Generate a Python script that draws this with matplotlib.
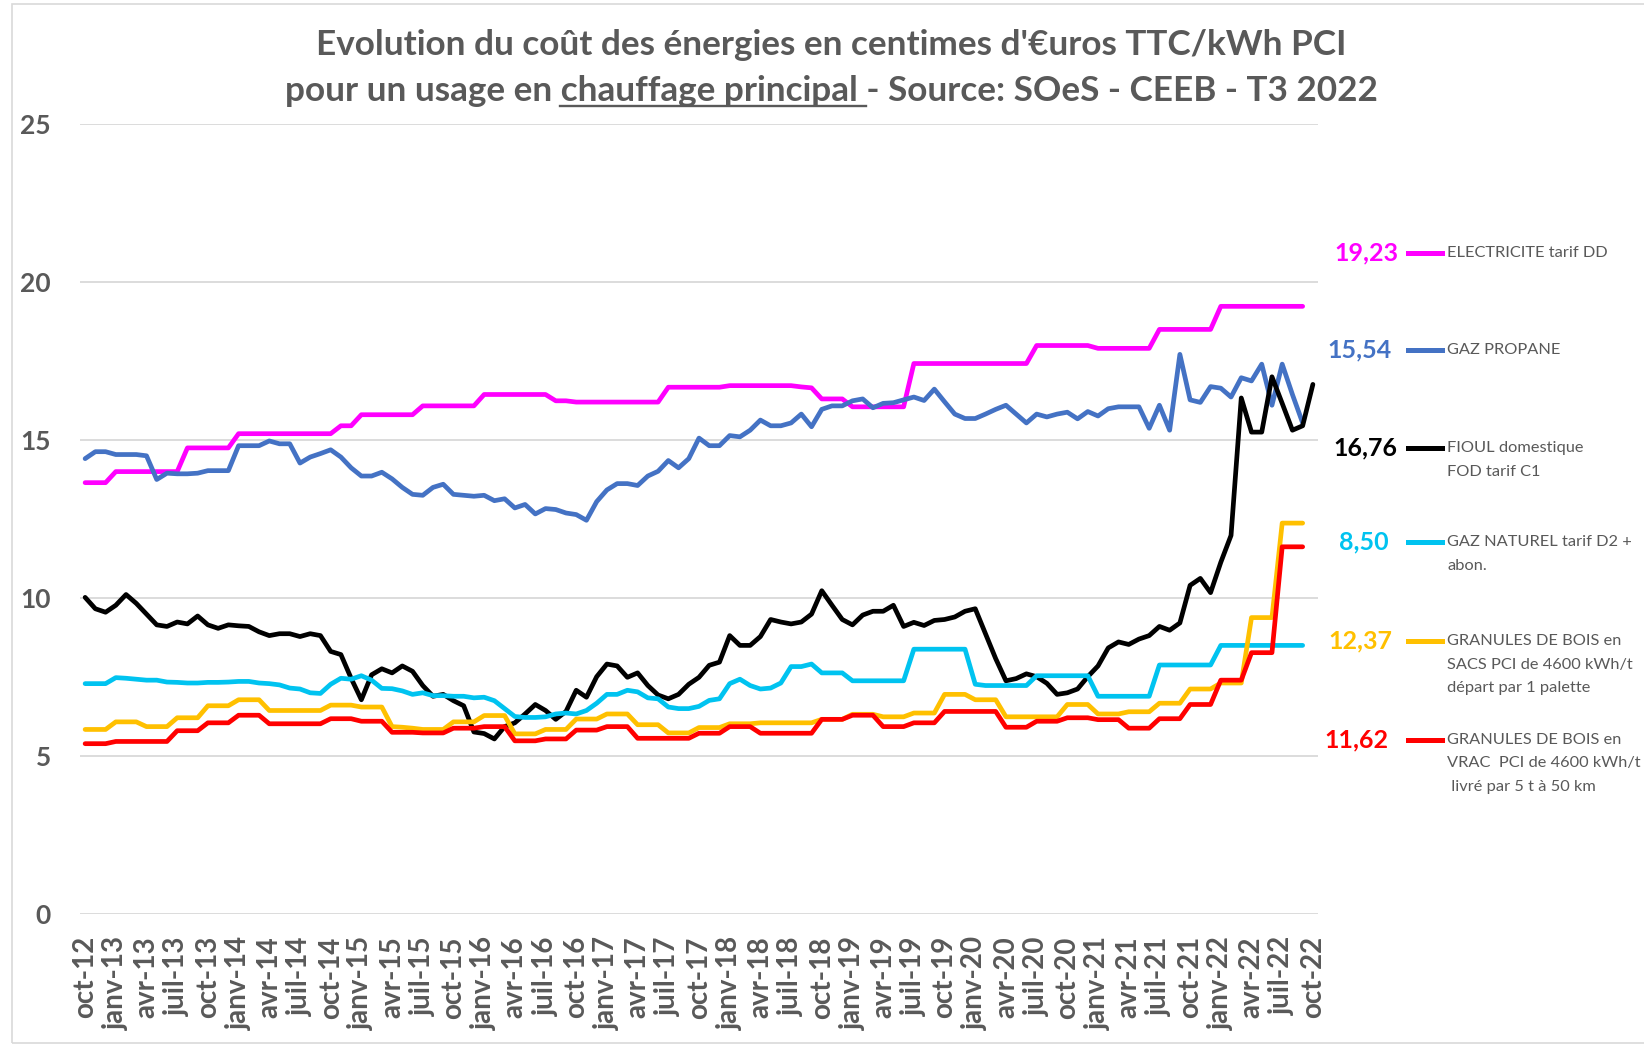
import matplotlib
matplotlib.use("Agg")
import matplotlib.pyplot as plt
from matplotlib.lines import Line2D
from matplotlib.patches import Rectangle

plt.rcParams['font.family'] = ['Lato', 'DejaVu Sans']

W, H = 1644, 1047
GREY = '#595959'

# tick labels, one every 3 months (oct-12 .. oct-22)
tick_labels = ['oct-12',
               'janv-13', 'avr-13', 'juil-13', 'oct-13',
               'janv-14', 'avr-14', 'juil-14', 'oct-14',
               'janv-15', 'avr-15', 'juil-15', 'oct-15',
               'janv-16', 'avr-16', 'juil-16', 'oct-16',
               'janv-17', 'avr-17', 'juil-17', 'oct-17',
               'janv-18', 'avr-18', 'juil-18', 'oct-18',
               'janv-19', 'avr-19', 'juil-19', 'oct-19',
               'janv-20', 'avr-20', 'juil-20', 'oct-20',
               'janv-21', 'avr-21', 'juil-21', 'oct-21',
               'janv-22', 'avr-22', 'juil-22', 'oct-22']

# monthly values, c€/kWh PCI, starting oct-12
electricite = [13.65, 13.65, 13.65, 14.0, 14.0, 14.0, 14.0, 14.0, 14.0, 14.0,
               14.75, 14.75, 14.75, 14.75, 14.75, 15.2, 15.2, 15.2, 15.2, 15.2,
               15.2, 15.2, 15.2, 15.2, 15.2, 15.45, 15.45, 15.8, 15.8, 15.8,
               15.8, 15.8, 15.8, 16.08, 16.08, 16.08, 16.08, 16.08, 16.08, 16.44,
               16.44, 16.44, 16.44, 16.44, 16.44, 16.44, 16.24, 16.24, 16.2, 16.2,
               16.2, 16.2, 16.2, 16.2, 16.2, 16.2, 16.2, 16.67, 16.67, 16.67,
               16.67, 16.67, 16.67, 16.72, 16.72, 16.72, 16.72, 16.72, 16.72, 16.72,
               16.68, 16.65, 16.3, 16.3, 16.3, 16.05, 16.05, 16.05, 16.05, 16.05,
               16.05, 17.42, 17.42, 17.42, 17.42, 17.42, 17.42, 17.42, 17.42, 17.42,
               17.42, 17.42, 17.42, 17.99, 17.99, 17.99, 17.99, 17.99, 17.99, 17.9,
               17.9, 17.9, 17.9, 17.9, 17.9, 18.5, 18.5, 18.5, 18.5, 18.5,
               18.5, 19.23, 19.23, 19.23, 19.23, 19.23, 19.23, 19.23, 19.23, 19.23]

propane = [14.41, 14.63, 14.63, 14.54, 14.54, 14.54, 14.5, 13.75, 13.95, 13.93,
           13.93, 13.95, 14.03, 14.03, 14.03, 14.82, 14.82, 14.82, 14.97, 14.88,
           14.88, 14.27, 14.46, 14.57, 14.69, 14.46, 14.12, 13.86, 13.86, 13.98,
           13.77, 13.5, 13.28, 13.25, 13.5, 13.6, 13.28, 13.25, 13.22, 13.25,
           13.08, 13.14, 12.85, 12.96, 12.66, 12.83, 12.8, 12.69, 12.64, 12.46,
           13.05, 13.42, 13.62, 13.62, 13.56, 13.86, 14.01, 14.35, 14.12, 14.41,
           15.06, 14.82, 14.82, 15.14, 15.1, 15.31, 15.63, 15.45, 15.45, 15.54,
           15.82, 15.42, 15.97, 16.08, 16.08, 16.24, 16.3, 16.02, 16.16, 16.18,
           16.27, 16.36, 16.25, 16.61, 16.21, 15.82, 15.68, 15.68, 15.82, 15.97,
           16.1, 15.82, 15.54, 15.82, 15.73, 15.82, 15.88, 15.67, 15.9, 15.76,
           15.99, 16.05, 16.05, 16.05, 15.37, 16.1, 15.31, 17.71, 16.27, 16.19,
           16.69, 16.64, 16.36, 16.97, 16.87, 17.4, 16.1, 17.4, 16.44, 15.54]

fioul = [10.02, 9.66, 9.55, 9.77, 10.11, 9.83, 9.49, 9.15, 9.1, 9.24,
         9.18, 9.43, 9.15, 9.04, 9.15, 9.12, 9.1, 8.93, 8.81, 8.87,
         8.87, 8.78, 8.87, 8.81, 8.31, 8.21, 7.46, 6.78, 7.57, 7.76,
         7.63, 7.85, 7.68, 7.23, 6.89, 6.95, 6.75, 6.59, 5.76, 5.71,
         5.54, 5.93, 6.05, 6.33, 6.63, 6.44, 6.16, 6.41, 7.08, 6.86,
         7.51, 7.91, 7.85, 7.49, 7.63, 7.23, 6.93, 6.81, 6.95, 7.27,
         7.49, 7.87, 7.97, 8.81, 8.5, 8.5, 8.78, 9.32, 9.24, 9.18,
         9.24, 9.49, 10.23, 9.77, 9.32, 9.15, 9.46, 9.58, 9.58, 9.77,
         9.1, 9.23, 9.13, 9.29, 9.32, 9.4, 9.58, 9.66, 8.87, 8.08,
         7.38, 7.45, 7.6, 7.51, 7.3, 6.95, 7.0, 7.12, 7.51, 7.85,
         8.42, 8.61, 8.53, 8.7, 8.81, 9.1, 8.98, 9.21, 10.4, 10.62,
         10.17, 11.13, 11.98, 16.33, 15.25, 15.25, 17.0, 16.16, 15.31, 15.45,
         16.76]

gaz_naturel = [7.29, 7.29, 7.29, 7.48, 7.46, 7.43, 7.4, 7.4, 7.34, 7.33,
               7.31, 7.31, 7.33, 7.33, 7.34, 7.36, 7.36, 7.31, 7.29, 7.25,
               7.15, 7.12, 7.0, 6.98, 7.27, 7.46, 7.43, 7.54, 7.4, 7.14,
               7.13, 7.06, 6.95, 7.0, 6.91, 6.91, 6.89, 6.89, 6.84, 6.86,
               6.75, 6.5, 6.25, 6.22, 6.22, 6.24, 6.33, 6.36, 6.33, 6.44,
               6.67, 6.95, 6.95, 7.08, 7.03, 6.84, 6.81, 6.55, 6.5, 6.5,
               6.57, 6.76, 6.81, 7.29, 7.43, 7.23, 7.12, 7.15, 7.31, 7.83,
               7.83, 7.91, 7.63, 7.63, 7.63, 7.38, 7.38, 7.38, 7.38, 7.38,
               7.38, 8.38, 8.38, 8.38, 8.38, 8.38, 8.38, 7.27, 7.23, 7.23,
               7.23, 7.23, 7.23, 7.54, 7.54, 7.54, 7.54, 7.54, 7.54, 6.89,
               6.89, 6.89, 6.89, 6.89, 6.89, 7.88, 7.88, 7.88, 7.88, 7.88,
               7.88, 8.5, 8.5, 8.5, 8.5, 8.5, 8.5, 8.5, 8.5, 8.5]

granules_sacs = [5.84, 5.84, 5.84, 6.08, 6.08, 6.08, 5.93, 5.93, 5.93, 6.21,
                 6.21, 6.21, 6.59, 6.59, 6.59, 6.78, 6.78, 6.78, 6.44, 6.44,
                 6.44, 6.44, 6.44, 6.44, 6.61, 6.61, 6.61, 6.55, 6.55, 6.55,
                 5.93, 5.91, 5.88, 5.84, 5.84, 5.84, 6.08, 6.08, 6.08, 6.28,
                 6.28, 6.28, 5.7, 5.7, 5.7, 5.84, 5.84, 5.84, 6.17, 6.17,
                 6.17, 6.33, 6.33, 6.33, 5.99, 5.99, 5.99, 5.73, 5.73, 5.73,
                 5.9, 5.9, 5.9, 6.02, 6.02, 6.02, 6.05, 6.05, 6.05, 6.05,
                 6.05, 6.05, 6.16, 6.16, 6.16, 6.32, 6.32, 6.32, 6.24, 6.24,
                 6.24, 6.36, 6.36, 6.36, 6.95, 6.95, 6.95, 6.78, 6.78, 6.78,
                 6.24, 6.24, 6.24, 6.24, 6.24, 6.24, 6.63, 6.63, 6.63, 6.33,
                 6.33, 6.33, 6.4, 6.4, 6.4, 6.67, 6.67, 6.67, 7.12, 7.12,
                 7.12, 7.31, 7.31, 7.31, 9.38, 9.38, 9.38, 12.37, 12.37, 12.37]

granules_vrac = [5.39, 5.39, 5.39, 5.46, 5.46, 5.46, 5.46, 5.46, 5.46, 5.8,
                 5.8, 5.8, 6.05, 6.05, 6.05, 6.29, 6.29, 6.29, 6.02, 6.02,
                 6.02, 6.02, 6.02, 6.02, 6.18, 6.18, 6.18, 6.1, 6.1, 6.1,
                 5.75, 5.75, 5.75, 5.73, 5.73, 5.73, 5.88, 5.88, 5.88, 5.93,
                 5.93, 5.93, 5.48, 5.48, 5.48, 5.54, 5.54, 5.54, 5.82, 5.82,
                 5.82, 5.93, 5.93, 5.93, 5.56, 5.56, 5.56, 5.56, 5.56, 5.56,
                 5.72, 5.72, 5.72, 5.93, 5.93, 5.93, 5.72, 5.72, 5.72, 5.72,
                 5.72, 5.72, 6.16, 6.16, 6.16, 6.29, 6.29, 6.29, 5.93, 5.93,
                 5.93, 6.05, 6.05, 6.05, 6.41, 6.41, 6.41, 6.41, 6.41, 6.41,
                 5.91, 5.91, 5.91, 6.1, 6.1, 6.1, 6.21, 6.21, 6.21, 6.15,
                 6.15, 6.15, 5.88, 5.88, 5.88, 6.18, 6.18, 6.18, 6.63, 6.63,
                 6.63, 7.4, 7.4, 7.4, 8.27, 8.27, 8.27, 11.62, 11.62, 11.62]


def fx(px):
    return px / W


def fy(py):
    return 1 - py / H


# series, colour, legend lines, legend y and value-label right edge (px)
series = [
    (electricite, '#FF00FF', ['ELECTRICITE tarif DD'], 253, 1398),
    (propane, '#4472C4', ['GAZ PROPANE'], 350, 1392),
    (fioul, '#000000', ['FIOUL domestique', 'FOD tarif C1'], 448, 1397),
    (gaz_naturel, '#00C3F0', ['GAZ NATUREL tarif D2 +', 'abon.'], 542, 1389),
    (granules_sacs, '#FFC000', ['GRANULES DE BOIS en', 'SACS PCI de 4600 kWh/t',
                                'départ par 1 palette'], 641, 1392),
    (granules_vrac, '#FF0000', ['GRANULES DE BOIS en', 'VRAC  PCI de 4600 kWh/t',
                                ' livré par 5 t à 50 km'], 740, 1388),
]

fig = plt.figure(figsize=(W / 100, H / 100), dpi=100)
ax = fig.add_axes([fx(80), fy(914), (1318 - 80) / W, (914 - 124) / H])

for vals, col, _, _, _ in series:
    ax.plot(range(len(vals)), vals, color=col, lw=3.4,
            solid_joinstyle='round', solid_capstyle='round', zorder=3)

ax.set_xlim(-0.5, 120.5)
ax.set_ylim(0, 25)
ax.set_yticks(range(0, 26, 5))
ax.set_xticks(range(0, 121, 3))
ax.set_xticklabels(tick_labels, rotation=90)
ax.grid(axis='y', color='#D9D9D9', lw=1.3)
ax.grid(axis='x', visible=False)
ax.set_axisbelow(True)
for sp in ax.spines.values():
    sp.set_visible(False)
ax.tick_params(axis='x', length=0, pad=16, labelsize=20, labelcolor=GREY)
ax.tick_params(axis='y', length=0, pad=21, labelsize=19, labelcolor=GREY)
for lab in ax.get_xticklabels() + ax.get_yticklabels():
    lab.set_fontweight('bold')

# end values + legend on the right
for vals, col, lines, ly, rx in series:
    fig.text(fx(rx), fy(ly), f"{vals[-1]:.2f}".replace('.', ','),
             ha='right', va='center', fontsize=18, fontweight='bold', color=col)
    fig.add_artist(Line2D([fx(1408), fx(1442)], [fy(ly), fy(ly)],
                          transform=fig.transFigure, color=col, lw=3.6))
    for k, txt in enumerate(lines):
        fig.text(fx(1447), fy(ly + 23.5 * k), txt, ha='left', va='center',
                 fontsize=11.8, color=GREY)

# title
tkw = dict(fontsize=25.3, fontweight='bold', color=GREY)
fig.text(fx(831), fy(55), "Evolution du coût des énergies en centimes d'€uros TTC/kWh PCI",
         ha='center', va='baseline', **tkw)

renderer = fig.canvas.get_renderer()


def width(s):
    t = fig.text(0, 0, s, **tkw)
    w = t.get_window_extent(renderer).width
    t.remove()
    return w


line2 = "pour un usage en chauffage principal - Source: SOeS - CEEB - T3 2022"
full_w = width(line2)
left = 831 - full_w / 2
fig.text(fx(left), fy(101), line2, ha='left', va='baseline', **tkw)
space_w = width("en chauffage") - width("en") - width("chauffage")
u0 = left + width("pour un usage en") + space_w
u1 = left + width("pour un usage en chauffage principal") + space_w
fig.add_artist(Line2D([fx(u0), fx(u1)], [fy(106), fy(106)],
                      transform=fig.transFigure, color=GREY, lw=1.7))

# chart area border
fig.add_artist(Rectangle((fx(12), fy(1043)), fx(1700), (1043 - 4) / H,
                         transform=fig.transFigure, fill=False,
                         ec='#D9D9D9', lw=1.2))

fig.savefig('out.png', dpi=100)
